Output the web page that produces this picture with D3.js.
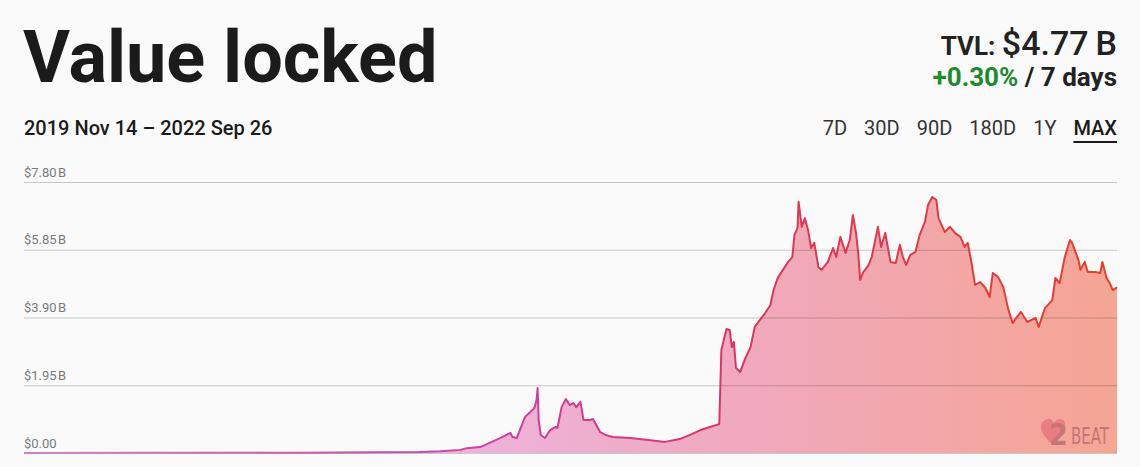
<!DOCTYPE html>
<html>
<head>
<meta charset="utf-8">
<script src="https://cdn.jsdelivr.net/npm/d3@7"></script>
<style>
  html, body { margin: 0; padding: 0; background: #fafafa; }
  svg { display: block; font-family: Roboto, "Noto Sans", sans-serif; }
</style>
</head>
<body>
<svg id="chart" width="1140" height="467"></svg>
<script>
// TVL in billions of USD
var dates = [
  "2019-11-14","2020-03-14","2020-08-04","2020-10-20","2020-11-27","2020-12-17",
  "2021-01-05","2021-01-11","2021-01-24","2021-02-02","2021-02-12","2021-02-22",
  "2021-02-24","2021-02-28","2021-03-08","2021-03-13","2021-03-17","2021-03-19",
  "2021-03-20","2021-03-21","2021-03-23","2021-03-27","2021-04-01","2021-04-06",
  "2021-04-08","2021-04-12","2021-04-16","2021-04-20","2021-04-23","2021-04-26",
  "2021-04-30","2021-05-03","2021-05-09","2021-05-12","2021-05-19","2021-05-24",
  "2021-05-31","2021-06-17","2021-07-06","2021-07-20","2021-08-03","2021-08-13",
  "2021-08-23","2021-09-01","2021-09-10","2021-09-12","2021-09-15","2021-09-17",
  "2021-09-20","2021-09-22","2021-09-24","2021-09-26","2021-09-30","2021-10-05",
  "2021-10-10","2021-10-14","2021-10-19","2021-10-24","2021-10-29","2021-11-01",
  "2021-11-05","2021-11-10","2021-11-15","2021-11-19","2021-11-21","2021-11-24",
  "2021-11-25","2021-11-28","2021-12-01","2021-12-04","2021-12-07","2021-12-10",
  "2021-12-14","2021-12-17","2021-12-23","2021-12-28","2021-12-31","2022-01-04",
  "2022-01-09","2022-01-13","2022-01-16","2022-01-19","2022-01-21","2022-01-23",
  "2022-01-26","2022-01-31","2022-02-03","2022-02-06","2022-02-09","2022-02-12",
  "2022-02-16","2022-02-21","2022-02-26","2022-03-02","2022-03-05","2022-03-08",
  "2022-03-12","2022-03-17","2022-03-21","2022-03-26","2022-03-29","2022-04-02",
  "2022-04-06","2022-04-08","2022-04-11","2022-04-14","2022-04-19","2022-04-24",
  "2022-04-29","2022-05-03","2022-05-06","2022-05-10","2022-05-13","2022-05-18",
  "2022-05-23","2022-05-27","2022-05-30","2022-06-04","2022-06-09","2022-06-14",
  "2022-06-18","2022-06-22","2022-06-26","2022-07-02","2022-07-10","2022-07-13",
  "2022-07-19","2022-07-26","2022-07-29","2022-08-02","2022-08-07","2022-08-12",
  "2022-08-14","2022-08-20","2022-08-22","2022-08-26","2022-08-29","2022-09-05",
  "2022-09-10","2022-09-12","2022-09-16","2022-09-19","2022-09-22","2022-09-26"
];
var tvl = [
  0.00, 0.004, 0.01, 0.02, 0.03, 0.05,
  0.09, 0.14, 0.17, 0.29, 0.43, 0.58,
  0.46, 0.43, 1.04, 1.18, 1.30, 1.53,
  1.87, 0.95, 0.52, 0.43, 0.66, 0.75,
  0.72, 1.32, 1.55, 1.38, 1.44, 1.32,
  1.47, 0.95, 0.95, 0.98, 0.60, 0.52,
  0.46, 0.43, 0.37, 0.32, 0.40, 0.52,
  0.66, 0.75, 0.83, 2.96, 3.34, 3.57,
  3.54, 3.05, 3.20, 2.45, 2.33, 2.73,
  3.05, 3.63, 3.83, 4.03, 4.26, 4.69,
  5.04, 5.27, 5.50, 5.64, 6.28, 6.48,
  7.23, 6.51, 6.76, 6.42, 5.90, 6.05,
  5.35, 5.27, 5.50, 5.90, 5.64, 6.22,
  5.76, 6.13, 6.85, 6.33, 5.79, 4.98,
  5.21, 5.41, 5.64, 6.07, 6.51, 5.93,
  6.33, 5.50, 5.47, 5.99, 5.64, 5.41,
  5.70, 5.79, 6.28, 6.65, 7.14, 7.37,
  7.28, 6.76, 6.56, 6.36, 6.51, 6.33,
  6.22, 5.93, 6.05, 5.41, 4.84, 4.92,
  4.75, 4.49, 5.18, 5.07, 4.78, 4.12,
  3.74, 3.91, 4.06, 3.77, 3.89, 3.63,
  4.17, 4.40, 5.04, 4.89, 5.64, 6.13,
  6.05, 5.56, 5.27, 5.50, 5.21, 5.21,
  5.18, 5.50, 5.04, 4.89, 4.69, 4.77
];
var tickValues = [0, 1.95, 3.90, 5.85, 7.80];
var tickLabels = ["$0.00", "$1.95\u200aB", "$3.90\u200aB", "$5.85\u200aB", "$7.80\u200aB"];
var ranges = ["7D", "30D", "90D", "180D", "1Y", "MAX"];
var selectedRange = "MAX";

var svg = d3.select("#chart");
// plot box (note: "top" is a reserved window prop, so prefix these)
var plotLeft = 24, plotRight = 1117, plotTop = 182, plotBottom = 453;

var parse = d3.timeParse("%Y-%m-%d");
var data = dates.map(function(d, i) { return { date: parse(d), value: tvl[i] }; });

var x = d3.scaleTime()
  .domain(d3.extent(data, function(d) { return d.date; }))
  .range([plotLeft, plotRight]);
var y = d3.scaleLinear().domain([0, 7.8]).range([plotBottom, plotTop]);

// header
svg.append("text")
  .attr("x", plotLeft - 1).attr("y", 82)
  .attr("font-size", 72).attr("font-weight", 700).attr("fill", "#1b1b1b")
  .text("Value locked");

svg.append("text")
  .attr("x", plotLeft).attr("y", 135)
  .attr("font-size", 20).attr("font-weight", 500).attr("fill", "#1b1b1b")
  .text("2019 Nov 14 \u2013 2022 Sep 26");

var tvlText = svg.append("text")
  .attr("x", plotRight).attr("y", 55)
  .attr("text-anchor", "end").attr("fill", "#222").attr("font-weight", 700);
tvlText.append("tspan").attr("font-size", 26).text("TVL: ");
tvlText.append("tspan").attr("font-size", 34).attr("font-weight", 500).text("$4.77\u2009B");

var chg = svg.append("text")
  .attr("x", plotRight).attr("y", 86)
  .attr("text-anchor", "end").attr("font-size", 26).attr("font-weight", 700);
chg.append("tspan").attr("fill", "#1d8a2e").text("+0.30%");
chg.append("tspan").attr("fill", "#222").text(" / 7 days");

// range buttons, laid out right to left
var bx = plotRight;
var btn = svg.append("g").attr("font-size", 20).attr("fill", "#333");
ranges.slice().reverse().forEach(function(r) {
  var t = btn.append("text")
    .attr("x", bx).attr("y", 135)
    .attr("text-anchor", "end")
    .attr("font-weight", r == selectedRange ? 500 : 400)
    .attr("fill", r == selectedRange ? "#1b1b1b" : "#333")
    .text(r);
  var w = t.node().getComputedTextLength();
  if (r == selectedRange) {
    svg.append("rect").attr("x", bx - w).attr("y", 141)
      .attr("width", w).attr("height", 2).attr("fill", "#1b1b1b");
  }
  bx -= w + 17;
});

// gradients
var defs = svg.append("defs");
function grad(id, stops) {
  var g = defs.append("linearGradient").attr("id", id)
    .attr("gradientUnits", "userSpaceOnUse")
    .attr("x1", plotLeft).attr("x2", plotRight).attr("y1", 0).attr("y2", 0);
  stops.forEach(function(s) {
    g.append("stop").attr("offset", s[0]).attr("stop-color", s[1]);
  });
}
grad("fillGrad", [[0, "#e9b9e2"], [0.42, "#edb2d8"], [0.65, "#f0a9bf"], [1, "#f5a593"]]);
grad("lineGrad", [[0, "#c48ac6"], [0.35, "#c94aa8"], [0.45, "#d03da2"], [0.65, "#dc3462"], [1, "#e8402a"]]);

var area = d3.area()
  .x(function(d) { return x(d.date); })
  .y0(y(0))
  .y1(function(d) { return y(d.value); });
var line = d3.line()
  .x(function(d) { return x(d.date); })
  .y(function(d) { return y(d.value); });

svg.append("path").datum(data)
  .attr("d", area).attr("fill", "url(#fillGrad)");

// grid + labels
var axis = d3.axisLeft(y)
  .tickValues(tickValues)
  .tickSize(-(plotRight - plotLeft))
  .tickFormat(function(d, i) { return tickLabels[i]; });
var ga = svg.append("g")
  .attr("transform", "translate(" + plotLeft + ",0)")
  .call(axis);
ga.select(".domain").remove();
ga.selectAll(".tick line")
  .attr("stroke", "rgba(0,0,0,0.2)").attr("stroke-width", 1);
ga.selectAll(".tick text")
  .attr("x", 0).attr("dy", "-6px")
  .attr("text-anchor", "start")
  .attr("font-family", "Roboto, sans-serif")
  .attr("font-size", 13).attr("fill", "#7a7a7a");

svg.append("path").datum(data)
  .attr("d", line)
  .attr("fill", "none")
  .attr("stroke", "url(#lineGrad)")
  .attr("stroke-width", 2)
  .attr("stroke-linejoin", "round");

// watermark
var wm = svg.append("g").attr("transform", "translate(1041,418)").attr("opacity", 0.5);
wm.append("path")
  .attr("d", "M11,26 C3,19 0,14 0,9 C0,4 4,1 8,1 C10,1 12,3 13,5 C14,3 16,1 19,1 C23,1 25,5 24,9 C23,15 18,20 11,26 Z")
  .attr("fill", "#e2566f");
wm.append("text").attr("x", 8).attr("y", 27)
  .attr("font-size", 30).attr("font-weight", 700).attr("fill", "#9b4552")
  .attr("font-family", "'Liberation Sans Narrow', 'DejaVu Sans Condensed', sans-serif")
  .text("2");
wm.append("text").attr("x", 30).attr("y", 26)
  .attr("font-size", 23).attr("fill", "#9b4552")
  .attr("textLength", 38).attr("lengthAdjust", "spacingAndGlyphs")
  .attr("font-family", "'Liberation Sans Narrow', 'DejaVu Sans Condensed', sans-serif")
  .text("BEAT");
</script>
</body>
</html>
